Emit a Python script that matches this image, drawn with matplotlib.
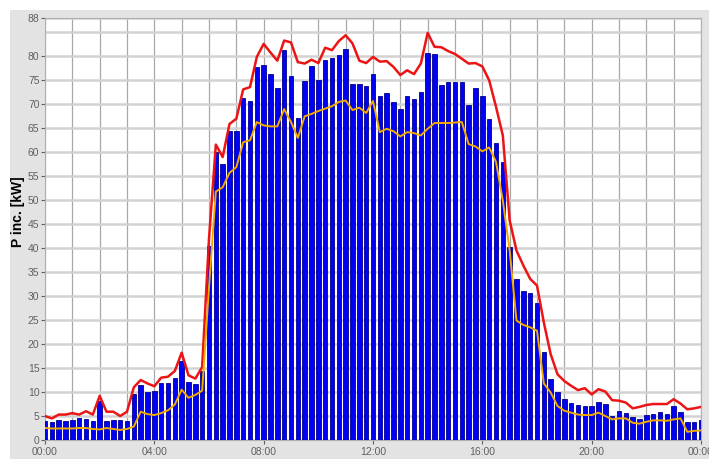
import numpy as np
import matplotlib.pyplot as plt
from matplotlib.patches import Rectangle

# 15-minute values, 00:00 .. 24:00 (97 points)
p_bars = [4.0, 3.8, 4.2, 3.9, 4.2, 4.5, 4.4, 3.9, 8.2, 4.0, 4.2, 4.2, 4.0, 9.6, 11.4, 10.1,
          10.3, 11.8, 11.9, 13.0, 16.5, 12.0, 11.6, 14.4,
          40.5, 60.0, 57.6, 64.4, 64.5, 71.4, 70.7, 77.8, 78.2, 76.3, 73.3, 81.4, 75.9, 67.2, 74.9, 77.9,
          75.0, 79.2, 79.7, 80.3, 81.6, 74.2, 74.3, 73.8, 76.4, 71.7, 72.4, 70.5, 69.1, 71.7, 71.2, 72.6,
          80.6, 80.5, 74.0, 74.7, 74.7, 74.7, 69.8, 73.5, 71.7, 67.0, 62.0, 58.0, 40.3, 33.6, 31.0, 30.6,
          28.5, 18.3, 12.8, 10.1, 8.5, 7.8, 7.4, 7.1, 7.1, 7.9, 7.5, 5.0, 6.1, 5.7, 4.8, 4.3,
          5.3, 5.4, 5.9, 5.5, 7.1, 5.9, 3.8, 3.8, 4.1]

p_max = [5.0, 4.5, 5.3, 5.3, 5.6, 5.3, 6.0, 5.3, 9.2, 5.9, 5.9, 5.0, 5.9, 11.0, 12.5, 11.8,
         11.2, 13.0, 13.2, 14.4, 18.2, 13.5, 12.8, 15.2,
         42.0, 61.6, 59.0, 65.9, 67.0, 73.1, 73.6, 79.9, 82.6, 80.8, 79.1, 83.3, 82.9, 78.8, 78.5, 79.3,
         78.6, 81.8, 81.3, 83.2, 84.4, 82.7, 79.1, 78.6, 79.9, 78.9, 79.0, 77.8, 76.1, 77.1, 76.3, 78.5,
         84.9, 82.0, 81.9, 81.1, 80.5, 79.5, 78.5, 78.6, 77.9, 75.0, 69.5, 63.5, 45.8, 39.5, 36.4, 33.6,
         32.2, 24.5, 17.9, 13.7, 12.3, 11.3, 10.4, 10.8, 9.5, 10.6, 10.1, 8.3, 8.2, 7.8, 6.6, 6.9,
         7.3, 7.5, 7.5, 7.5, 8.5, 7.6, 6.4, 6.6, 6.9]

p_min = [2.5, 2.4, 2.4, 2.4, 2.4, 2.5, 2.5, 2.3, 2.2, 2.5, 2.3, 2.1, 2.3, 2.8, 5.9, 5.4,
         5.2, 5.6, 6.2, 7.4, 10.5, 8.8, 9.4, 10.3,
         31.8, 51.8, 52.7, 55.7, 56.9, 62.1, 62.5, 66.3, 65.6, 65.4, 65.4, 69.0, 66.3, 63.0, 67.5, 68.0,
         68.6, 69.1, 69.6, 70.5, 70.8, 68.8, 69.3, 68.2, 70.7, 64.2, 64.9, 64.4, 63.3, 64.2, 64.0, 63.5,
         64.9, 66.1, 66.1, 66.1, 66.2, 66.3, 61.7, 61.2, 60.2, 61.0, 58.0, 49.9, 39.5, 24.9, 24.0, 23.5,
         22.8, 11.8, 9.9, 7.1, 6.1, 5.7, 5.3, 5.2, 5.2, 5.7, 5.0, 4.3, 4.5, 4.5, 3.6, 3.4,
         3.8, 4.1, 4.1, 4.0, 4.3, 4.5, 1.7, 1.9, 2.0]

x_labels = ['00:00', '04:00', '08:00', '12:00', '16:00', '20:00', '00:00']
y_ticks = [0, 5, 10, 15, 20, 25, 30, 35, 40, 45, 50, 55, 60, 65, 70, 75, 80, 88]

hours = np.arange(len(p_bars)) * 0.25

plt.rcParams['font.family'] = ['Liberation Sans Narrow', 'Liberation Sans', 'DejaVu Sans']

fig = plt.figure(figsize=(7.09, 4.59), dpi=100, facecolor='white')
# grey panel behind the chart
fig.patches.append(Rectangle((10 / 709, 0), 1, 1 - 10 / 459, transform=fig.transFigure,
                             facecolor='#e3e3e3', edgecolor='none', zorder=-10))
ax = fig.add_axes([45 / 709, 19 / 459, 656 / 709, 422 / 459])
ax.set_facecolor('white')

ax.bar(hours, p_bars, width=0.165, color='#0000f5', edgecolor='#00008a', linewidth=0.6, zorder=3)
ax.plot(hours, p_max, color='#ec1414', linewidth=1.8, zorder=4)
ax.plot(hours, p_min, color='#f2aa00', linewidth=1.4, zorder=5)

ax.set_xlim(0, 24)
ax.set_ylim(0, 88)
ax.set_xticks(np.arange(0, 25, 4))
ax.set_xticklabels(x_labels)
ax.set_xticks(np.arange(0, 25, 1), minor=True)
ax.set_yticks(y_ticks)
ax.set_yticks([85], minor=True)

ax.grid(axis='x', which='both', color='#a8a8a8', linewidth=0.9, zorder=1)
ax.grid(axis='y', which='both', color='#d2d2d2', linewidth=1.8, zorder=1)
ax.set_axisbelow(True)

ax.tick_params(axis='both', which='major', labelsize=7.5, colors='#606060', length=3, width=0.8)
ax.tick_params(axis='both', which='minor', length=0)
ax.tick_params(axis='y', pad=1)
ax.tick_params(axis='x', pad=2)
for s in ax.spines.values():
    s.set_color('#b0b0b0')
    s.set_linewidth(0.8)

ax.set_ylabel('P inc. [kW]', fontsize=10, fontweight='bold', family=['Liberation Sans', 'DejaVu Sans'])
ax.yaxis.set_label_coords(-0.03, 0.54)

fig.savefig('out.png', dpi=100, facecolor=fig.get_facecolor())
